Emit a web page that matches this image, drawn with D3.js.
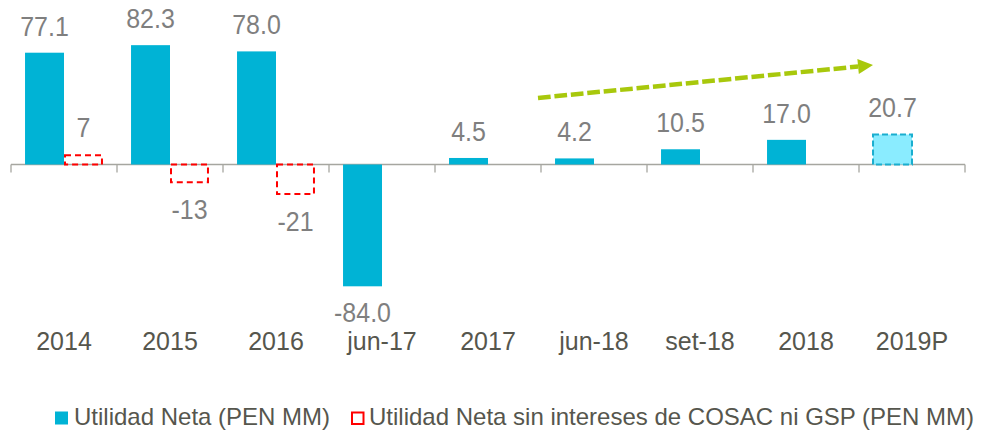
<!DOCTYPE html>
<html>
<head>
<meta charset="utf-8">
<script src="https://cdn.jsdelivr.net/npm/d3@7"></script>
<style>
  body { margin: 0; background: #fff; }
  svg { display: block; font-family: "Liberation Sans", Arial, sans-serif; }
</style>
</head>
<body>
<div id="chart-area"></div>
<script>
const categories = ["2014", "2015", "2016", "jun-17", "2017", "jun-18", "set-18", "2018", "2019P"];
const utilidadNeta = [77.1, 82.3, 78.0, -84.0, 4.5, 4.2, 10.5, 17.0, 20.7];
const sinCosacGsp = [7, -13, -21, null, null, null, null, null, null];
const projected = ["2019P"];
const seriesNames = ["Utilidad Neta (PEN MM)", "Utilidad Neta sin intereses de COSAC ni GSP (PEN MM)"];
// trend arrow, from the start of jun-18 to the 2019P bar, in data units
const trendFrom = { cat: "jun-18", value: 45.9 };
const trendTo = { cat: "2019P", value: 68.6 };

const width = 983, height = 434;

var blue = '#00b3d5',
    lightBlue = '#8aecff',
    red = '#ff0000',
    green = '#a8c80c',
    labelGray = '#7f7f7f',
    axisText = '#56564d',
    axisLine = '#a6a6a0';

const svg = d3.select("#chart-area").append("svg")
    .attr("width", width)
    .attr("height", height);

const x = d3.scaleBand().domain(categories).range([11, 965]).padding(0);
const inner = d3.scaleBand().domain(["neta", "sin"]).range([0, x.bandwidth()])
    .paddingInner(0).paddingOuter(0.36);
const y = d3.scaleLinear().domain([-100, 100]).range([309.5, 19.5]);

// axis line + ticks between categories
const gAxis = svg.append("g").attr("stroke", axisLine).attr("stroke-width", 1.3);
gAxis.append("line")
    .attr("x1", x.range()[0]).attr("x2", x.range()[1])
    .attr("y1", y(0)).attr("y2", y(0));
gAxis.selectAll("line.tick")
    .data(categories.concat([null]))
    .join("line")
    .attr("class", "tick")
    .attr("x1", (d, i) => x.range()[0] + i * x.step())
    .attr("x2", (d, i) => x.range()[0] + i * x.step())
    .attr("y1", y(0)).attr("y2", y(0) + 8);

// Utilidad Neta bars
const neta = categories.map((c, i) => ({ cat: c, value: utilidadNeta[i] }));
svg.append("g").selectAll("rect")
    .data(neta)
    .join("rect")
    .attr("x", d => x(d.cat) + inner("neta"))
    .attr("y", d => y(Math.max(0, d.value)))
    .attr("width", inner.bandwidth())
    .attr("height", d => Math.abs(y(d.value) - y(0)))
    .attr("fill", d => projected.includes(d.cat) ? lightBlue : blue)
    .attr("stroke", d => projected.includes(d.cat) ? '#1aaecf' : 'none')
    .attr("stroke-width", 2)
    .attr("stroke-dasharray", "6,3");

// sin COSAC ni GSP (dashed outline)
const sin = categories.map((c, i) => ({ cat: c, value: sinCosacGsp[i] })).filter(d => d.value != null);
svg.append("g").selectAll("rect")
    .data(sin)
    .join("rect")
    .attr("x", d => x(d.cat) + inner("sin") + 1)
    .attr("y", d => y(Math.max(0, d.value)) + (d.value > 0 ? 1 : 0))
    .attr("width", inner.bandwidth() - 2)
    .attr("height", d => Math.abs(y(d.value) - y(0)) - 1)
    .attr("fill", "none")
    .attr("stroke", red)
    .attr("stroke-width", 2)
    .attr("stroke-dasharray", "6,4");

// value labels (slightly stretched vertically like the original)
function addLabels(data, key) {
    svg.append("g").selectAll("text")
        .data(data)
        .join("text")
        .attr("transform", d => {
            var lx = x(d.cat) + inner(key) + inner.bandwidth() / 2;
            var ly = d.value >= 0 ? y(d.value) - 17 : y(d.value) + 36;
            return `translate(${lx},${ly}) scale(1,1.12)`;
        })
        .attr("text-anchor", "middle")
        .attr("font-size", 25)
        .attr("fill", labelGray)
        .text(d => key == "neta" ? d.value.toFixed(1) : String(d.value));
}
addLabels(neta, "neta");
addLabels(sin, "sin");

// category labels
svg.append("g").selectAll("text")
    .data(categories)
    .join("text")
    .attr("x", d => x(d) + x.bandwidth() / 2)
    .attr("y", 350)
    .attr("text-anchor", "middle")
    .attr("font-size", 25)
    .attr("fill", axisText)
    .text(d => d);

// trend arrow
const x0 = x(trendFrom.cat) - 3, y0 = y(trendFrom.value);
const x1 = x(trendTo.cat) + inner("neta"), y1 = y(trendTo.value);
const ang = Math.atan2(y1 - y0, x1 - x0);
const headLen = 15, headHalf = 7.5;
const bx = x1 - headLen * Math.cos(ang), by = y1 - headLen * Math.sin(ang);
svg.append("line")
    .attr("x1", x0).attr("y1", y0)
    .attr("x2", bx).attr("y2", by)
    .attr("stroke", green)
    .attr("stroke-width", 4.5)
    .attr("stroke-dasharray", "12.7,3.8");
svg.append("polygon")
    .attr("points", [
        [x1, y1],
        [bx + headHalf * Math.sin(ang), by - headHalf * Math.cos(ang)],
        [bx - headHalf * Math.sin(ang), by + headHalf * Math.cos(ang)]
    ].map(p => p.join(",")).join(" "))
    .attr("fill", green);

// legend
const legend = svg.append("g");
legend.append("rect")
    .attr("x", 55).attr("y", 411.5).attr("width", 13).attr("height", 13)
    .attr("fill", blue);
legend.append("text")
    .attr("x", 74).attr("y", 425)
    .attr("font-size", 24).attr("fill", axisText)
    .text(seriesNames[0]);
legend.append("rect")
    .attr("x", 352).attr("y", 412.5).attr("width", 11.5).attr("height", 11.5)
    .attr("fill", "none").attr("stroke", red).attr("stroke-width", 2);
legend.append("text")
    .attr("x", 369).attr("y", 425)
    .attr("font-size", 24).attr("fill", axisText)
    .text(seriesNames[1]);
</script>
</body>
</html>
